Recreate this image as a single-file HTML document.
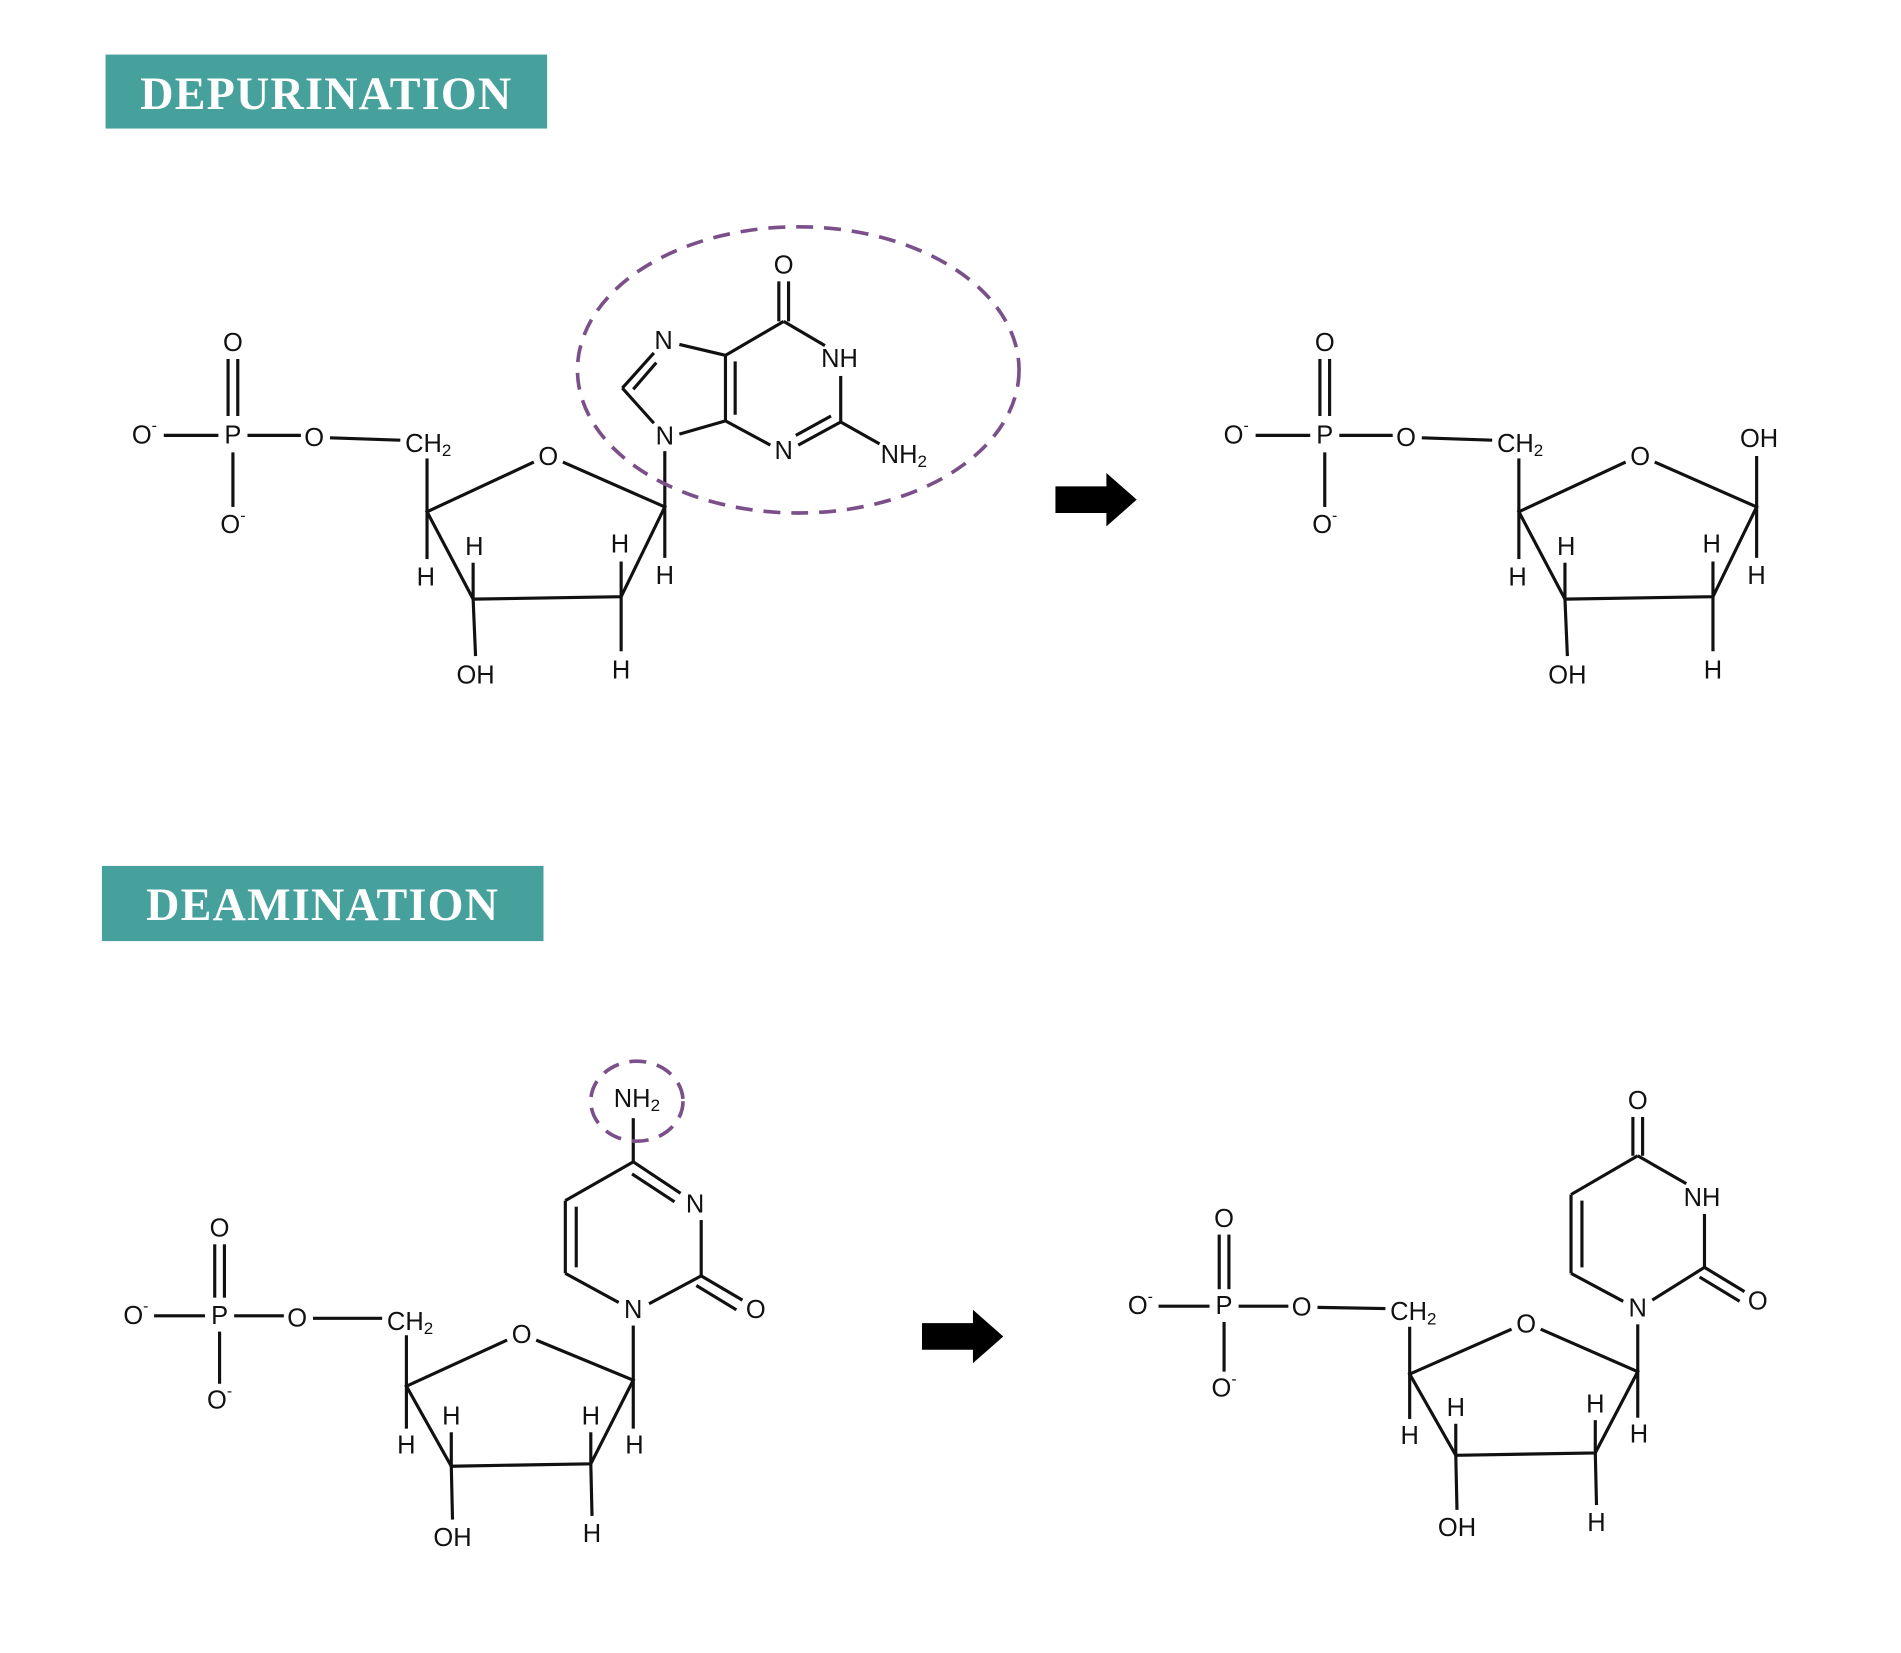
<!DOCTYPE html>
<html><head><meta charset="utf-8"><style>
html,body{margin:0;padding:0;background:#fff;}
svg{display:block;}
text{font-family:"Liberation Sans",sans-serif;font-size:21px;fill:#111;text-anchor:middle;dominant-baseline:central;}
.hd{font-family:"Liberation Serif",serif;font-weight:bold;font-size:38px;fill:#fff;letter-spacing:1px;}
line,polyline{stroke:#111;stroke-width:2.6;fill:none;}
.dash{stroke:#7b4f8a;stroke-width:3;fill:none;stroke-dasharray:14 9;}
</style></head><body>
<svg width="1901" height="1653" viewBox="0 0 1567 1363" preserveAspectRatio="none" xmlns="http://www.w3.org/2000/svg">
<rect x="87" y="45" width="364" height="61" fill="#46a09c"/>
<text class="hd" x="269" y="77">DEPURINATION</text>
<rect x="84" y="714" width="364" height="62" fill="#46a09c"/>
<text class="hd" x="266" y="746">DEAMINATION</text>

<defs>
<g id="sp">
<text x="192" y="283">O</text>
<line x1="188" y1="296" x2="188" y2="343"/><line x1="196" y1="296" x2="196" y2="343"/>
<text x="192" y="359">P</text>
<text x="119" y="359">O<tspan font-size="13" dy="-8">-</tspan></text>
<line x1="135" y1="359" x2="180" y2="359"/>
<text x="192" y="433">O<tspan font-size="13" dy="-8">-</tspan></text>
<line x1="192" y1="373" x2="192" y2="418"/>
<line x1="204" y1="359" x2="248" y2="359"/>
<text x="259" y="361">O</text>
<line x1="272" y1="361" x2="330" y2="363"/>
<text x="353" y="366">CH<tspan font-size="14" dy="5">2</tspan></text>
<line x1="352" y1="378" x2="352" y2="422"/>
<polyline points="440,381 352,422 390,494 512,492 548,418 464,381"/>
<text x="452" y="377">O</text>
<line x1="352" y1="422" x2="352" y2="461"/><text x="351" y="476">H</text>
<line x1="390" y1="494" x2="390" y2="464"/><text x="391" y="451">H</text>
<line x1="390" y1="494" x2="392" y2="541"/><text x="392" y="557">OH</text>
<line x1="512" y1="492" x2="512" y2="463"/><text x="511" y="449">H</text>
<line x1="512" y1="492" x2="512" y2="537"/><text x="512" y="553">H</text>
<line x1="548" y1="418" x2="548" y2="460"/><text x="548" y="475">H</text>
</g>
<polygon id="arr" points="0,-11 42,-11 42,-22 67,0 42,22 42,11 0,11" fill="#000"/>
</defs>

<use href="#sp"/>
<line x1="548" y1="418" x2="548" y2="372"/>
<text x="548" y="360">N</text>
<line x1="539" y1="349" x2="513" y2="320"/>
<line x1="513" y1="320" x2="539" y2="291"/><line x1="522" y1="321" x2="541" y2="299"/>
<text x="547" y="281">N</text>
<line x1="560" y1="284" x2="598" y2="293"/>
<line x1="598" y1="293" x2="598" y2="347"/><line x1="606" y1="298" x2="606" y2="342"/>
<line x1="598" y1="347" x2="560" y2="358"/>
<line x1="598" y1="293" x2="646" y2="265"/>
<line x1="642" y1="265" x2="642" y2="232"/><line x1="650" y1="265" x2="650" y2="232"/>
<text x="646" y="219">O</text>
<line x1="646" y1="265" x2="680" y2="285"/>
<text x="692" y="296">NH</text>
<line x1="693" y1="310" x2="693" y2="348"/>
<line x1="693" y1="348" x2="658" y2="367"/><line x1="685" y1="343" x2="656" y2="359"/>
<text x="646" y="372">N</text>
<line x1="635" y1="367" x2="598" y2="347"/>
<line x1="693" y1="348" x2="725" y2="366"/>
<text x="745" y="375">NH<tspan font-size="14" dy="5">2</tspan></text>
<ellipse class="dash" cx="658" cy="305" rx="182" ry="118"/>

<use href="#arr" x="870" y="412"/>

<g transform="translate(900,0)">
<use href="#sp"/>
<line x1="548" y1="418" x2="548" y2="376"/>
<text x="550" y="362">OH</text>
</g>

<text x="181" y="1013">O</text>
<line x1="177" y1="1026" x2="177" y2="1070"/><line x1="185" y1="1026" x2="185" y2="1070"/>
<text x="181" y="1085">P</text>
<text x="112" y="1085">O<tspan font-size="13" dy="-8">-</tspan></text>
<line x1="127" y1="1085" x2="169" y2="1085"/>
<text x="181" y="1155">O<tspan font-size="13" dy="-8">-</tspan></text>
<line x1="181" y1="1098" x2="181" y2="1141"/>
<line x1="193" y1="1085" x2="234" y2="1085"/>
<text x="245" y="1087">O</text>
<line x1="258" y1="1087" x2="315" y2="1087"/>
<text x="338" y="1090">CH<tspan font-size="14" dy="5">2</tspan></text>
<line x1="335" y1="1101" x2="335" y2="1143"/>
<polyline points="418,1105 335,1143 372,1209 487,1207 522,1138 442,1105"/>
<text x="430" y="1101">O</text>
<line x1="335" y1="1143" x2="335" y2="1178"/><text x="335" y="1192">H</text>
<line x1="372" y1="1209" x2="372" y2="1181"/><text x="372" y="1168">H</text>
<line x1="372" y1="1209" x2="373" y2="1253"/><text x="373" y="1268">OH</text>
<line x1="487" y1="1207" x2="487" y2="1181"/><text x="487" y="1168">H</text>
<line x1="487" y1="1207" x2="488" y2="1250"/><text x="488" y="1265">H</text>
<line x1="522" y1="1138" x2="522" y2="1178"/><text x="523" y="1192">H</text>
<line x1="522" y1="1138" x2="522" y2="1093"/>
<text x="522" y="1080">N</text>
<line x1="510" y1="1074" x2="466" y2="1050"/>
<line x1="466" y1="1050" x2="466" y2="990"/><line x1="475" y1="1045" x2="475" y2="995"/>
<line x1="466" y1="990" x2="522" y2="958"/>
<line x1="522" y1="958" x2="561" y2="984"/><line x1="521" y1="968" x2="556" y2="991"/>
<text x="573" y="993">N</text>
<line x1="578" y1="1006" x2="578" y2="1052"/>
<line x1="578" y1="1052" x2="535" y2="1075"/>
<line x1="578" y1="1052" x2="612" y2="1072"/><line x1="574" y1="1060" x2="607" y2="1080"/>
<text x="623" y="1080">O</text>
<line x1="522" y1="958" x2="522" y2="922"/>
<text x="525" y="906">NH<tspan font-size="14" dy="5">2</tspan></text>
<ellipse class="dash" cx="525" cy="908" rx="38" ry="33"/>

<use href="#arr" x="760" y="1102"/>

<text x="1009" y="1005">O</text>
<line x1="1005" y1="1018" x2="1005" y2="1063"/><line x1="1013" y1="1018" x2="1013" y2="1063"/>
<text x="1009" y="1077">P</text>
<text x="940" y="1077">O<tspan font-size="13" dy="-8">-</tspan></text>
<line x1="955" y1="1077" x2="997" y2="1077"/>
<text x="1009" y="1145">O<tspan font-size="13" dy="-8">-</tspan></text>
<line x1="1009" y1="1090" x2="1009" y2="1131"/>
<line x1="1021" y1="1077" x2="1062" y2="1077"/>
<text x="1073" y="1078">O</text>
<line x1="1086" y1="1078" x2="1142" y2="1079"/>
<text x="1165" y="1082">CH<tspan font-size="14" dy="5">2</tspan></text>
<line x1="1162" y1="1094" x2="1162" y2="1133"/>
<polyline points="1246,1096 1162,1133 1200,1200 1315,1198 1350,1131 1270,1096"/>
<text x="1258" y="1092">O</text>
<line x1="1162" y1="1133" x2="1162" y2="1170"/><text x="1162" y="1184">H</text>
<line x1="1200" y1="1200" x2="1200" y2="1174"/><text x="1200" y="1161">H</text>
<line x1="1200" y1="1200" x2="1201" y2="1245"/><text x="1201" y="1260">OH</text>
<line x1="1315" y1="1198" x2="1315" y2="1171"/><text x="1315" y="1158">H</text>
<line x1="1315" y1="1198" x2="1316" y2="1241"/><text x="1316" y="1256">H</text>
<line x1="1350" y1="1131" x2="1350" y2="1169"/><text x="1351" y="1183">H</text>
<line x1="1350" y1="1131" x2="1350" y2="1092"/>
<text x="1350" y="1079">N</text>
<line x1="1338" y1="1073" x2="1295" y2="1050"/>
<line x1="1295" y1="1050" x2="1295" y2="985"/><line x1="1304" y1="1045" x2="1304" y2="990"/>
<line x1="1295" y1="985" x2="1350" y2="953"/>
<line x1="1346" y1="953" x2="1346" y2="921"/><line x1="1354" y1="953" x2="1354" y2="921"/>
<text x="1350" y="908">O</text>
<line x1="1350" y1="953" x2="1390" y2="976"/>
<text x="1403" y="988">NH</text>
<line x1="1405" y1="1001" x2="1405" y2="1045"/>
<line x1="1405" y1="1045" x2="1362" y2="1072"/>
<line x1="1405" y1="1045" x2="1438" y2="1065"/><line x1="1401" y1="1053" x2="1434" y2="1073"/>
<text x="1449" y="1073">O</text>
</svg>
</body></html>
